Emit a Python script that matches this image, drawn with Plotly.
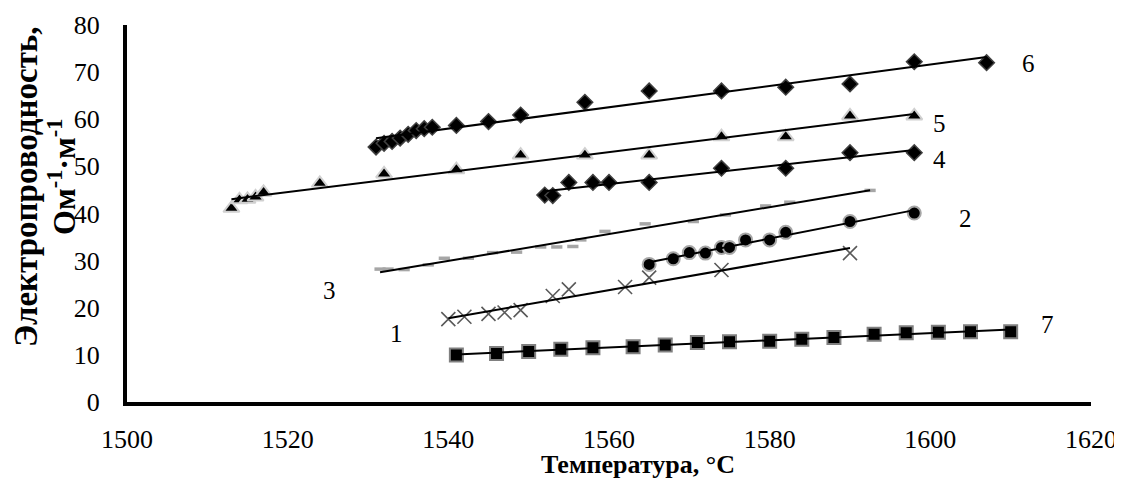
import numpy as np
import plotly.graph_objects as go

# ---- data ----
t1 = [1540, 1542, 1545, 1547, 1549, 1553, 1555, 1562, 1565, 1574, 1590]
v1 = [17.6, 18.1, 18.7, 19.0, 19.5, 22.5, 23.9, 24.4, 26.4, 28.0, 31.6]

t2 = [1565, 1568, 1570, 1572, 1574, 1575, 1577, 1580, 1582, 1590, 1598]
v2 = [29.2, 30.4, 31.7, 31.6, 32.8, 32.8, 34.4, 34.4, 36.0, 38.3, 40.1]

t3 = [1531.5, 1532.5, 1534.5, 1537.5, 1539.5, 1542.5, 1545.5, 1548.5, 1551.5, 1553.5,
      1555.5, 1556.5, 1559.5, 1564.5, 1570.5, 1574.5, 1579.5, 1582.5, 1592.5]
v3 = [28.2, 28.2, 28.1, 29.1, 30.5, 30.5, 31.7, 31.8, 32.9, 32.9,
      33.0, 34.4, 36.2, 37.8, 38.3, 39.7, 41.6, 42.4, 44.9]

t4 = [1552, 1553, 1555, 1558, 1560, 1565, 1574, 1582, 1590, 1598]
v4 = [43.9, 43.8, 46.6, 46.6, 46.6, 46.6, 49.6, 49.6, 52.9, 52.9]

t5 = [1513, 1514, 1515, 1516, 1517, 1524, 1532, 1541, 1549, 1557, 1565, 1574, 1582, 1590, 1598]
v5 = [41.1, 42.9, 43.0, 43.5, 44.5, 46.4, 48.4, 49.3, 52.4, 52.4, 52.4, 56.3, 56.3, 60.7, 60.7]

t6 = [1531, 1532, 1533, 1534, 1535, 1536, 1537, 1538, 1541, 1545, 1549, 1557, 1565, 1574,
      1582, 1590, 1598, 1607]
v6 = [54.1, 54.9, 55.3, 56.0, 56.8, 57.6, 58.0, 58.3, 58.7, 59.5, 60.9, 63.6, 66.0, 66.0,
      66.8, 67.5, 72.2, 72.0]

t7 = [1541, 1546, 1550, 1554, 1558, 1563, 1567, 1571, 1575, 1580, 1584, 1588, 1593, 1597,
      1601, 1605, 1610]
v7 = [10.0, 10.3, 10.7, 11.2, 11.5, 11.7, 12.1, 12.6, 12.8, 12.9, 13.3, 13.7, 14.4, 14.7,
      14.8, 14.9, 14.9]

series_names = ["1", "2", "3", "4", "5", "6", "7"]
label_t = [1533.6, 1604.4, 1525.2, 1601.2, 1601.2, 1612.2, 1614.6]
label_v = [14.6, 39.0, 23.6, 51.4, 59.2, 71.9, 16.5]

x_ticks = [1500, 1520, 1540, 1560, 1580, 1600, 1620]
y_ticks = [0, 10, 20, 30, 40, 50, 60, 70, 80]

FONT = "Liberation Serif"

styles = {
    "1": dict(symbol="x-thin-open", size=14, color="#595959", line=dict(color="#595959", width=1.6)),
    "2": dict(symbol="circle", size=13, color="black", line=dict(color="#a6a6a6", width=2)),
    "3": dict(symbol="line-ew-open", size=8, color="#a6a6a6", line=dict(color="#a6a6a6", width=3.5)),
    "4": dict(symbol="diamond", size=12, color="black", line=dict(color="#404040", width=1.5)),
    "5": dict(symbol="triangle-up", size=14, color="black", line=dict(color="#d0d0d0", width=2)),
    "6": dict(symbol="diamond", size=12, color="black", line=dict(color="#404040", width=1.5)),
    "7": dict(symbol="square", size=13, color="black", line=dict(color="#808080", width=2)),
}

data = {"1": (t1, v1), "2": (t2, v2), "3": (t3, v3), "4": (t4, v4),
        "5": (t5, v5), "6": (t6, v6), "7": (t7, v7)}

# the page body adds an 8 px offset; the figure is sized so the plot area lands at
# x 127..1091 and y 25..402 of the window
OFF = 8
W, H = 1122 - OFF, 480 - OFF
ML, MR, MT, MB = 127 - OFF, 31, 25 - OFF, 78

fig = go.Figure()
for name in series_names:
    t, v = data[name]
    fig.add_trace(go.Scatter(x=t, y=v, mode="markers", marker=styles[name],
                             showlegend=False, name=name))
# linear trendlines (least squares on the data)
for name in series_names:
    t, v = data[name]
    k, b = np.polyfit(t, v, 1)
    xs = [min(t), max(t)]
    fig.add_trace(go.Scatter(x=xs, y=[k * xs[0] + b, k * xs[1] + b], mode="lines",
                             line=dict(color="black", width=2), showlegend=False,
                             hoverinfo="skip"))

for name, lt, lv in zip(series_names, label_t, label_v):
    fig.add_annotation(x=lt, y=lv, text=name, showarrow=False,
                       font=dict(family=FONT, size=25, color="black"),
                       xanchor="center", yanchor="middle")

pw, ph = 1091 - 127, 402 - 25
# axis titles
fig.add_annotation(xref="paper", yref="paper", x=(638 - 127) / pw, y=(402 - 464) / ph,
                   text="<b>Температура, °C</b>", showarrow=False,
                   font=dict(family=FONT, size=26, color="black"),
                   xanchor="center", yanchor="middle")
fig.add_annotation(xref="paper", yref="paper", x=(26 - 127) / pw, y=(402 - 187) / ph,
                   text="<b>Электропроводность,</b>", showarrow=False, textangle=-90,
                   font=dict(family=FONT, size=33, color="black"),
                   xanchor="center", yanchor="middle")
fig.add_annotation(xref="paper", yref="paper", x=(62 - 127) / pw, y=(402 - 177) / ph,
                   text="<b>Ом<sup>-1</sup>·м<sup>-1</sup></b>", showarrow=False, textangle=-90,
                   font=dict(family=FONT, size=32, color="black"),
                   xanchor="center", yanchor="middle")

fig.update_layout(
    width=W, height=H,
    margin=dict(l=ML, r=MR, t=MT, b=MB),
    paper_bgcolor="white", plot_bgcolor="white",
    font=dict(family=FONT, size=26, color="black"),
    showlegend=False,
)
fig.update_xaxes(range=[1500, 1620], tickvals=x_ticks, ticktext=[str(x) for x in x_ticks],
                 showgrid=False, zeroline=False, showline=True, linecolor="black",
                 linewidth=4, ticks="", ticklabelstandoff=11, automargin=False,
                 tickfont=dict(family=FONT, size=26, color="black"))
fig.update_yaxes(range=[0, 80], tickvals=y_ticks, ticktext=[str(y) for y in y_ticks],
                 showgrid=False, zeroline=False, showline=True, linecolor="black",
                 linewidth=4, ticks="", ticklabelstandoff=18, automargin=False,
                 tickfont=dict(family=FONT, size=26, color="black"))

fig.write_html("out.html")
